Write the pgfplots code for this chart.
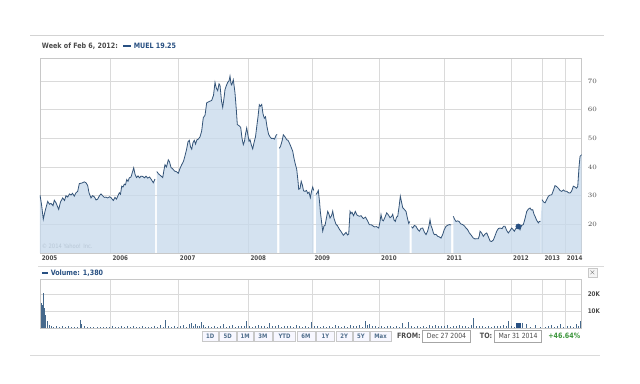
\documentclass[border=0pt]{standalone}
\usepackage{fontspec}
\setmainfont{DejaVu Sans}[FakeStretch=0.87]
\usepackage{pgfplots}
\usepackage{pgfplotstable}
\pgfplotsset{compat=1.18}
\definecolor{linec}{RGB}{52,84,120}
\definecolor{fillc}{RGB}{198,217,236}
\definecolor{gridc}{RGB}{218,218,218}
\definecolor{framec}{RGB}{200,200,200}
\definecolor{labc}{RGB}{75,75,75}
\definecolor{bluet}{RGB}{40,80,130}
\definecolor{greent}{RGB}{60,150,60}
\definecolor{volc}{RGB}{70,105,140}
\definecolor{btnc}{RGB}{80,110,140}

\pgfplotstableread{
x y
40 30.2
41.5 27
43.3 21.8
45 24.5
47.7 28
49.5 27
51 27.3
53 26.5
54.3 28.4
56 27.5
58.7 25.2
60.5 27.8
62.7 29.2
64.5 28.3
66 30
67.7 29.5
69.5 30.6
71 30.2
72.5 30.8
74.3 29.8
76 31
77.7 31.5
79.3 34.2
82 34.4
84.3 34.8
86 34.5
87.7 33.5
89 31
91 29.2
92.5 30
94.3 29.6
96 28.5
97.7 28.8
99.5 30
101 30.6
102.5 30
104.3 29.4
106 29.5
107.7 29.2
109.5 29.6
111 29.3
113.3 28.3
115 29.4
116.5 28.8
118 30
119.3 31
120.5 30.5
121.7 33.3
123 33
124.3 34
125.5 33.8
126.7 35.6
128 35
129.3 36.2
131 36.5
133.7 39.7
135 37.5
136.5 36.3
138 36.9
139.5 36.2
141 36.8
142.7 36.7
144.5 36.2
146 36.8
147.7 36.1
149.5 36.5
151 35.8
153.3 34.5
155 35.8
}\segA

\pgfplotstableread{
x y
156.8 38.4
158.5 37.6
160.5 37
162.7 36.3
164 39
165 40.8
166.5 40
168.3 42.5
169.5 41.8
171 39.8
172.5 39.4
174.5 38.6
176.7 38.3
178.3 37.8
180 39.5
181.7 40.8
183.5 42
185 43.9
186.5 46
188 48.8
189.3 49.3
190.5 47
191.7 46.2
193 48.5
194.3 49.3
195.5 48
197 49.5
198.3 49.7
200 50.5
201.7 52.6
202.5 55
203.3 57.2
205 58
206.7 62.4
209 62.8
211.7 63.2
213.5 65
215 69.5
216.3 67.5
217.7 66.6
219 69
220 68.5
221.5 63
222.7 60.8
224 64
225 67
226.5 68.5
227.7 69.5
229 70
230 71.7
231 69
231.7 68.6
233.3 70.4
234.2 68
235 65.8
236.3 60
237.3 54.8
239 54.4
240.7 53.8
242 50
243.3 47.8
244.5 49
245.5 51.5
246.7 53.6
248 51
249 49
250 49.5
251.5 47.5
252.7 46.3
254 48.5
255.5 50.5
256.7 54
258 57.5
259.3 61.7
260.3 61.2
261.7 61.8
263 58.5
264.3 57
265.5 57.5
267 54
268.5 51.5
270 50.5
271.5 49.9
273 50
274.5 49.7
276 51
277 51.4
}\segB

\pgfplotstableread{
x y
279.3 46.5
280.5 47.2
282 49
283.3 51.2
285 50.5
286.7 49.5
288 49.3
289.3 48.4
291 47
292.7 45.5
294 43
295.3 41
296.7 39.2
298 35
298.7 32.2
300 32.5
301.2 35
302.5 33.5
303.5 31.7
305 31.5
306.5 31.8
307.7 30.8
309 31.2
310.3 29.3
311.5 31.5
312.7 33
313.7 31.8
}\segC

\pgfplotstableread{
x y
316 30.4
317.2 31
318.3 31.8
319.5 28
320.3 24.5
321.5 21
322.7 17.6
324 19.5
325 19.6
326.3 22
327.7 24.5
329 23.5
330 22.2
331.5 23
332.7 24.6
334 22
336 20
337.5 19.5
339.3 18.3
341 17.5
343.3 16.2
344.5 16.6
346 17.2
347.5 16.3
348.7 16.6
350 24.5
351 23.8
352 24.2
353.5 23
355.3 24.5
357 23.2
359.3 22.8
361 23
363.3 22
365.5 22.5
367.7 21.1
369.3 19.9
371.5 19.8
374.3 19.1
376.5 19.2
378.7 18.7
380 21
381 23.4
382.2 21.5
383.3 21.2
385 22.5
386.7 24
388.5 23.2
390 22.3
391.5 22.7
392.7 23.5
394 21.5
395.3 21
396.5 22.5
397.7 22.8
399 26
400.3 29.8
401.5 27.8
402.7 25.8
404.3 25.2
406 24.5
407.5 22
408.7 20.3
409.7 21
}\segD

\pgfplotstableread{
x y
411.5 19.2
412.7 18.7
414.3 19.6
416 19.3
417.7 18.2
419.3 17.6
421 18.6
422.7 18.7
424.3 17.3
426 16.4
427.5 17.5
429 19.5
430 21.6
431 19.5
432 18.7
433.2 17.2
434.3 16.4
436 16.5
437.7 15.8
439.3 15.6
441 15.2
442.7 16.5
444.3 18.2
446 19.3
447.7 19.7
449.3 19.9
451 19.8
}\segE

\pgfplotstableread{
x y
453.3 22.8
454.5 21.8
456 21
457.7 21.2
459.3 20.9
460.5 20.2
462.7 19.9
464.5 19.4
466 18.7
467.5 18.2
469.3 17
471 16.3
473.3 15.2
475 14.9
476.5 15
478.3 15
479.3 16
480 17.6
481.5 17
483.3 15.8
485 16.6
486.7 17
488.5 15.5
490 14.2
491.5 14
493.3 14.5
495 16
496.7 17.6
498.3 18.5
500 18.7
502 18.5
503.5 19.3
505 19.3
506.7 17.8
508.3 17
510 17.8
511.7 18.7
513 18.2
514.3 17.6
515.5 18.4
516.7 18.7
518.3 19.25
520 18.1
521.5 19.6
523.3 19.9
525 22
526.7 24.5
528.3 25.3
530 25.7
531.3 25
532.7 25.1
534 23.5
535 22.8
536.5 21.5
538.3 20.5
539.3 21
540.5 21.1
}\segF

\pgfplotstableread{
x y
542 28.6
543.5 27.8
545 27.5
546.5 28.5
548.3 29.8
550 30.2
551.7 30.3
553 31.5
555 33.5
556.5 33.2
558.3 32.6
560 31.8
561.7 31.5
563.5 32
565 31.5
566.7 31.5
568.5 31
570 30.9
571.5 31.5
573.3 33.3
575 33
576.5 32.6
577.7 33.2
579 40
580 43.7
581.7 44.3
}\segG

\pgfplotstableread{
x y
540.5 21.1
542 28.6
}\segStep

\pgfplotstableread{
x v
41 14700
42.3 13700
43.3 20600
44.3 11800
45.7 7800
47.3 3900
49.3 2000
51 900
53 700
56 1100
59 500
62 900
65 400
68 1200
71 600
74 300
77 800
80 4900
81.5 2400
84 900
87 500
90 300
93 700
97 400
100 600
103 300
106 800
109 500
112 900
115 700
118 400
121 1100
124 600
127 1300
130 400
133 900
136 500
139 700
142 1200
145 400
148 800
151 500
154 1000
157 700
160 1500
163 600
165 4900
168 900
171 700
174 1200
177 600
180 1100
183 1700
186 800
189 2600
191 3200
193 1400
195 2400
197 1200
199 900
201.7 3300
203 1500
205 800
208 1000
211 600
214 1300
217 700
220 1000
223 2200
226 800
229 1100
232 1500
235 600
238 1300
241 900
244 1200
246.7 3900
249 1100
252 600
255 1300
258 1700
261 1000
264 1200
267 800
269 3000
272 1100
275 900
278 1500
281 700
284 1400
287 900
290 1200
293 600
296 1700
299 1000
302 800
305 1300
308 700
311 3300
314 900
317 1200
320 600
323 1400
326 800
329 1100
332 500
335 1600
338 900
341 700
344 1300
347 600
350 1800
353 900
356 1200
359 2000
362 800
365 4300
367 1500
369.3 2400
372 900
375 1300
378 700
381 1100
384 500
387 900
390 1400
393 600
396 1000
399 800
402 2900
405 700
408.3 3300
411 900
414 600
417 1200
420 800
423 1300
426 700
429 1500
432 1100
435 1800
438 900
441 1400
444 1000
447 1900
450 800
453 1300
456 1000
459 1600
462 900
465 1400
468 700
471 2000
473.3 5900
476 1200
479 900
482 1300
485 600
488 1000
491 800
494 1400
497 1100
500 900
503 1800
506 1000
508.3 4300
511 1400
514 800
522.7 2900
526.7 2600
530 600
535 2000
540 700
545 500
548 900
551 1800
554 600
557 1100
560 2100
563 700
567 900
570 1300
573 600
576 2300
578 1000
580 3900
}\vol

\newcommand{\hfont}{\bfseries\fontsize{5.5}{6.5}\selectfont}
\newcommand{\tfont}{\bfseries\fontsize{4.8}{5.5}\selectfont}
\newcommand{\bfont}{\bfseries\fontsize{4.6}{5.5}\selectfont}

\begin{document}
\begin{tikzpicture}[x=0.75pt,y=-0.75pt]
\useasboundingbox (0,0) rectangle (640,384);
\fill[white] (0,0) rectangle (640,384);
\coordinate (PA) at (40,58);
\coordinate (VA) at (40,279);
% header
\draw[framec!80, line width=0.5pt] (30,35.7) -- (604,35.7);
\node[anchor=west, inner sep=0, font=\hfont, text=labc] at (41.7,46) {Week of Feb 6, 2012:};
\fill[bluet] (123,44.7) rectangle (131,47.3);
\node[anchor=west, inner sep=0, font=\hfont, text=bluet] at (133.5,46) {MUEL 19.25};

\begin{axis}[
  at={(PA)}, anchor=north west, scale only axis,
  width=406.3pt, height=146.25pt,
  xmin=40, xmax=581.7, ymin=10, ymax=78,
  axis line style={draw=framec, line width=0.5pt},
  xtick={40,110.7,178,248.7,312.7,379.3,444.7,511.3,542.7,565},
  xticklabels={2005,2006,2007,2008,2009,2010,2011,2012,2013,2014},
  xticklabel style={anchor=north west, font=\tfont, text=labc, inner sep=1.2pt, yshift=-0.5pt},
  ytick={20,30,40,50,60,70},
  yticklabel pos=right,
  yticklabel style={anchor=west, font=\tfont, text=labc, xshift=1pt},
  major tick length=0pt,
  xmajorgrids, ymajorgrids,
  major grid style={draw=gridc, line width=0.5pt},
  clip=true,
]
\addplot[draw=none, fill=fillc, fill opacity=0.75] table[x=x,y=y] {\segA} \closedcycle;
\addplot[draw=none, fill=fillc, fill opacity=0.75] table[x=x,y=y] {\segB} \closedcycle;
\addplot[draw=none, fill=fillc, fill opacity=0.75] table[x=x,y=y] {\segC} \closedcycle;
\addplot[draw=none, fill=fillc, fill opacity=0.75] table[x=x,y=y] {\segD} \closedcycle;
\addplot[draw=none, fill=fillc, fill opacity=0.75] table[x=x,y=y] {\segE} \closedcycle;
\addplot[draw=none, fill=fillc, fill opacity=0.75] table[x=x,y=y] {\segF} \closedcycle;
\addplot[draw=none, fill=fillc, fill opacity=0.75] table[x=x,y=y] {\segStep} \closedcycle;
\addplot[draw=none, fill=fillc, fill opacity=0.75] table[x=x,y=y] {\segG} \closedcycle;
\addplot[linec, line width=0.6pt] table[x=x,y=y] {\segA};
\addplot[linec, line width=0.6pt] table[x=x,y=y] {\segB};
\addplot[linec, line width=0.6pt] table[x=x,y=y] {\segC};
\addplot[linec, line width=0.6pt] table[x=x,y=y] {\segD};
\addplot[linec, line width=0.6pt] table[x=x,y=y] {\segE};
\addplot[linec, line width=0.6pt] table[x=x,y=y] {\segF};
\addplot[linec, line width=0.6pt] table[x=x,y=y] {\segG};
\addplot[only marks, mark=*, mark size=1.9pt, color=bluet] coordinates {(518.3,19.25)};
\node[anchor=west, inner sep=0, font=\fontsize{4.5}{5}\selectfont, text=fillc!80!gray] at (axis cs:41.5,12.2) {\textcopyright\ 2014 Yahoo! Inc.};
\end{axis}

\draw[gridc, line width=0.5pt] (38,266) -- (604,266);

% volume header
\fill[bluet] (42.3,271.7) rectangle (47.5,274.3);
\node[anchor=west, inner sep=0, font=\hfont, text=bluet] at (50.5,273) {Volume: 1,380};
\draw[framec, fill=gray!8, line width=0.4pt] (588,268) rectangle (597,277);
\node[font=\bfseries\fontsize{5}{5}\selectfont, text=labc, inner sep=0] at (592.5,272.5) {$\times$};

\begin{axis}[
  at={(VA)}, anchor=north west, scale only axis,
  width=406.3pt, height=36.75pt,
  xmin=40, xmax=581.7, ymin=0, ymax=28800,
  axis line style={draw=framec, line width=0.5pt},
  xtick={40,110.7,178,248.7,312.7,379.3,444.7,511.3,542.7,565},
  xticklabels={},
  ytick={10000,20000}, yticklabels={10K,20K},
  scaled y ticks=false,
  yticklabel pos=right,
  yticklabel style={anchor=west, font=\tfont, text=labc, xshift=1pt},
  major tick length=0pt,
  xmajorgrids, ymajorgrids,
  major grid style={draw=gridc, line width=0.5pt},
]
\addplot[ycomb, volc, line width=0.5pt] table[x=x,y=v] {\vol};
\addplot[only marks, mark=square*, mark size=1.7pt, color=bluet] coordinates {(518.3,1700)};
\end{axis}

% buttons
\foreach \a/\b/\t in {201.9/218.7/1D,219.5/235.9/5D,237/253.4/1M,253.8/272/3M,273.4/295.6/YTD,296.8/315/6M,316.3/334.7/1Y,335.9/352.3/2Y,353/369/5Y,369.8/391.3/Max} {
  \draw[framec, fill=blue!3, line width=0.4pt] (\a,331) rectangle (\b,341.7);
  \node[font=\bfont, text=btnc, inner sep=0] at ({(\a+\b)/2},336.3) {\t};
}
\node[anchor=east, inner sep=0, font=\hfont, text=labc] at (421,336.3) {FROM:};
\draw[gray!70, line width=0.4pt] (422.3,330.5) rectangle (470.7,342.2);
\node[font=\fontsize{5.3}{6}\selectfont, text=labc, inner sep=0] at (446.5,336.3) {Dec 27 2004};
\node[anchor=east, inner sep=0, font=\hfont, text=labc] at (492.5,336.3) {TO:};
\draw[gray!70, line width=0.4pt] (494.3,330.5) rectangle (541.7,342.2);
\node[font=\fontsize{5.3}{6}\selectfont, text=labc, inner sep=0] at (518,336.3) {Mar 31 2014};
\node[anchor=east, inner sep=0, font=\hfont, text=greent] at (580.5,336.3) {+46.64\%};
\draw[gridc, line width=0.5pt] (30,355) -- (600,355);
\end{tikzpicture}
\end{document}
